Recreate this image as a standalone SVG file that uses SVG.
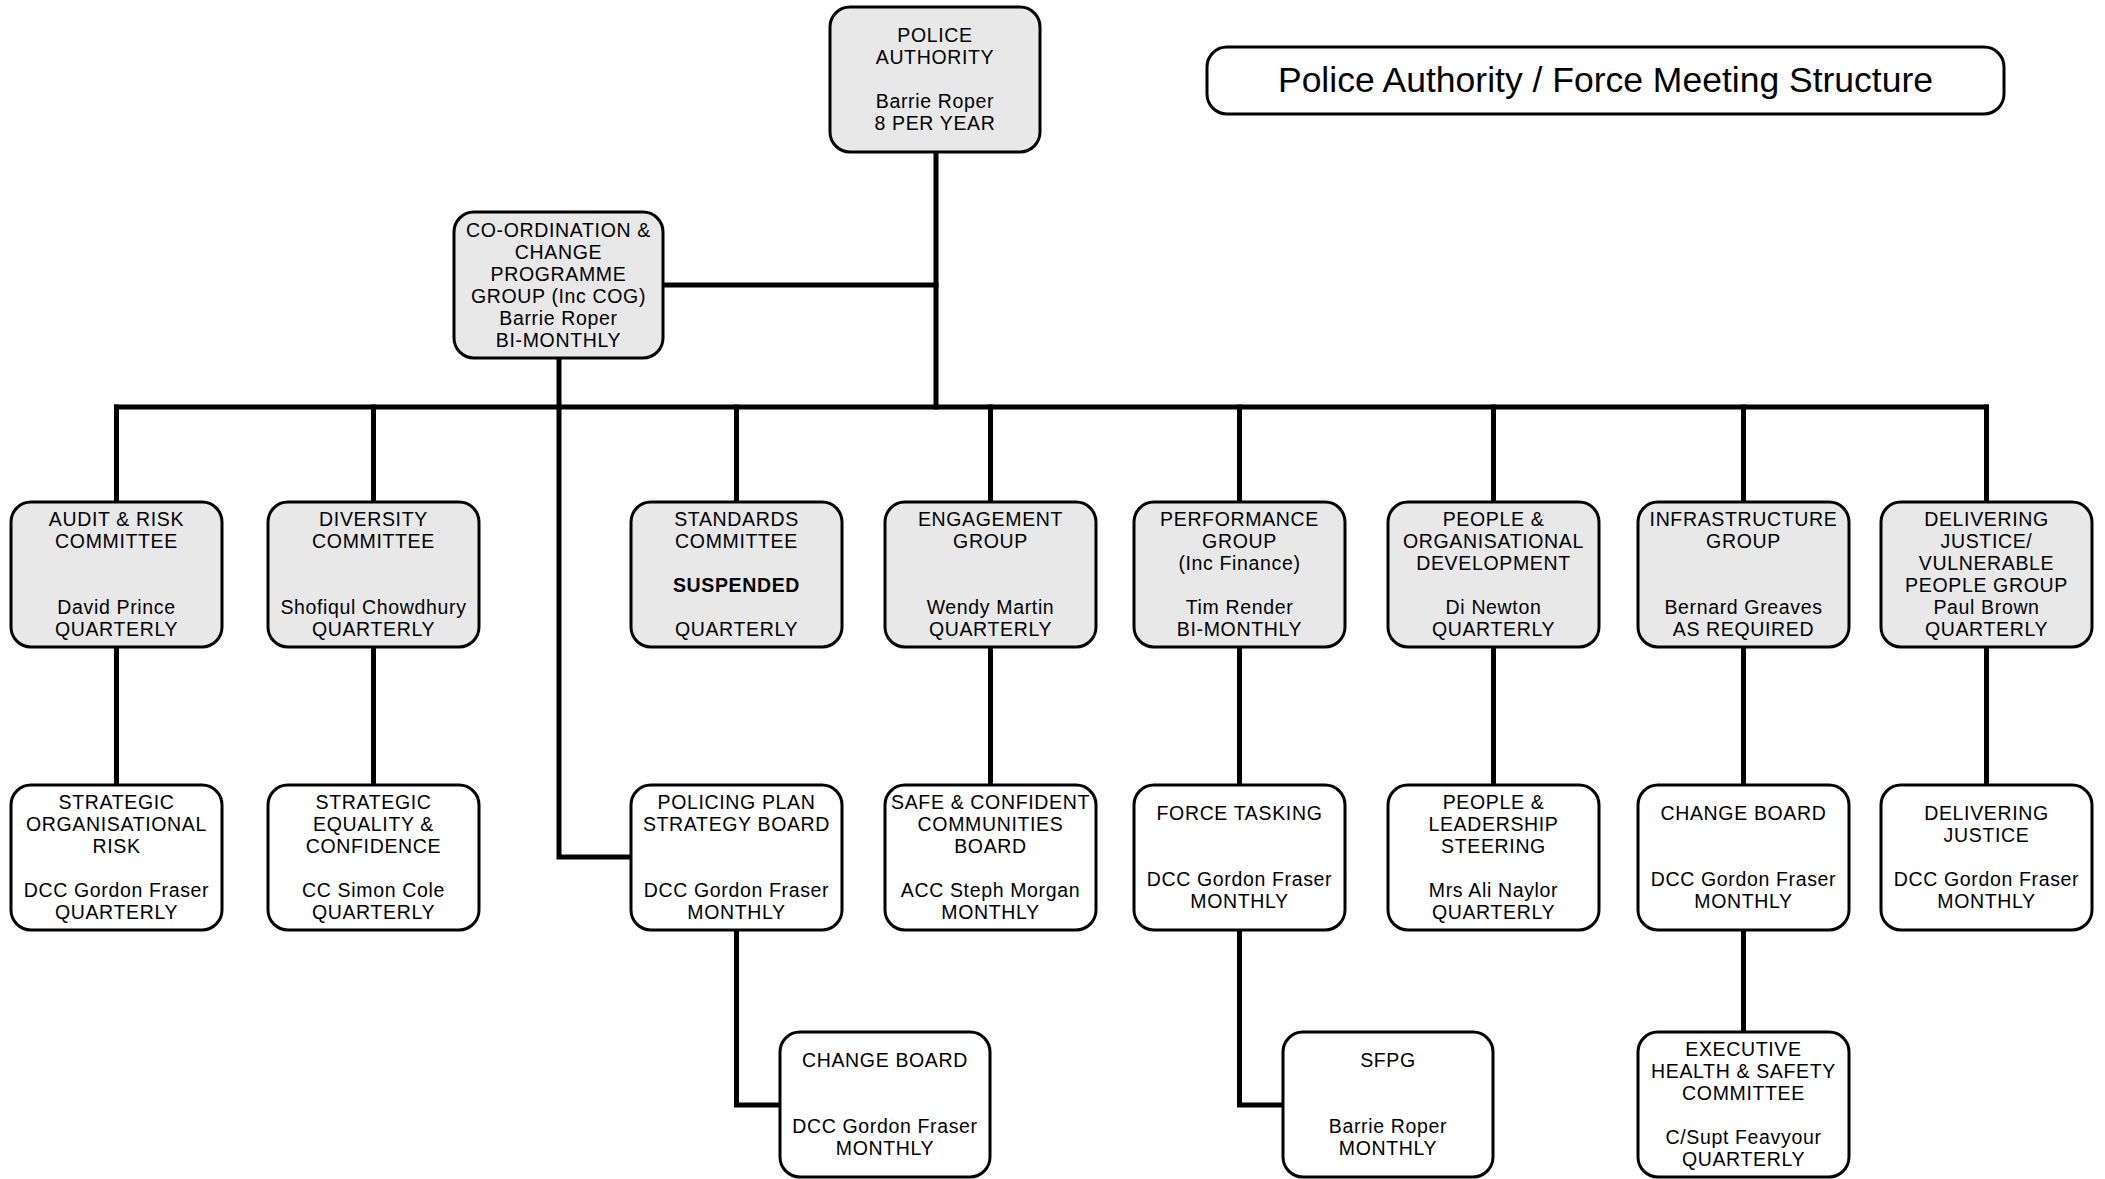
<svg xmlns="http://www.w3.org/2000/svg" width="2105" height="1179" viewBox="0 0 2105 1179">
<style>
.bg{fill:#fff}
.box{stroke:#000;stroke-width:3}
.grey{fill:#e8e8e8}
.white{fill:#fff}
.conn{stroke:#000;stroke-width:5;fill:none;stroke-linecap:square}
text{font-family:"Liberation Sans",Arial,sans-serif;font-size:19.5px;text-anchor:middle;fill:#000;letter-spacing:0.65px}
.b{font-weight:bold}
.title{font-size:35.5px;letter-spacing:0}
</style>
<rect class="bg" x="0" y="0" width="2105" height="1179"/>
<g id="connectors">
<path class="conn" d="M936,152 V407"/>
<path class="conn" d="M663,285 H936"/>
<path class="conn" d="M116.5,407 H1986.5"/>
<path class="conn" d="M116.5,407 V502 M373.5,407 V502 M736.5,407 V502 M990.5,407 V502 M1239.5,407 V502 M1493.5,407 V502 M1743.5,407 V502 M1986.5,407 V502"/>
<path class="conn" d="M559,358 V857 H631"/>
<path class="conn" d="M116.5,647 V785 M373.5,647 V785 M990.5,647 V785 M1239.5,647 V785 M1493.5,647 V785 M1743.5,647 V785 M1986.5,647 V785"/>
<path class="conn" d="M736.5,930 V1105 H780"/>
<path class="conn" d="M1239.5,930 V1105 H1283"/>
<path class="conn" d="M1743.5,930 V1032"/>
</g>
<g id="title">
<rect class="box white" x="1207" y="47" width="797" height="67" rx="20"/>
<text class="title" x="1605.5" y="92">Police Authority / Force Meeting Structure</text>
</g>
<g id="police-authority">
<rect class="box grey" x="830" y="7" width="210" height="145" rx="20"/>
<text x="935" y="42.3">POLICE</text>
<text x="935" y="64.3">AUTHORITY</text>
<text x="935" y="108.3">Barrie Roper</text>
<text x="935" y="130.3">8 PER YEAR</text>
</g>
<g id="cog">
<rect class="box grey" x="454" y="212" width="209" height="146" rx="20"/>
<text x="558.5" y="236.8">CO-ORDINATION &amp;</text>
<text x="558.5" y="258.8">CHANGE</text>
<text x="558.5" y="280.8">PROGRAMME</text>
<text x="558.5" y="302.8">GROUP (Inc COG)</text>
<text x="558.5" y="324.8">Barrie Roper</text>
<text x="558.5" y="346.8">BI-MONTHLY</text>
</g>
<g id="audit-risk">
<rect class="box grey" x="11" y="502" width="211" height="145" rx="20"/>
<text x="116.5" y="526.3">AUDIT &amp; RISK</text>
<text x="116.5" y="548.3">COMMITTEE</text>
<text x="116.5" y="614.3">David Prince</text>
<text x="116.5" y="636.3">QUARTERLY</text>
</g>
<g id="diversity">
<rect class="box grey" x="268" y="502" width="211" height="145" rx="20"/>
<text x="373.5" y="526.3">DIVERSITY</text>
<text x="373.5" y="548.3">COMMITTEE</text>
<text x="373.5" y="614.3">Shofiqul Chowdhury</text>
<text x="373.5" y="636.3">QUARTERLY</text>
</g>
<g id="standards">
<rect class="box grey" x="631" y="502" width="211" height="145" rx="20"/>
<text x="736.5" y="526.3">STANDARDS</text>
<text x="736.5" y="548.3">COMMITTEE</text>
<text class="b" x="736.5" y="592.3">SUSPENDED</text>
<text x="736.5" y="636.3">QUARTERLY</text>
</g>
<g id="engagement">
<rect class="box grey" x="885" y="502" width="211" height="145" rx="20"/>
<text x="990.5" y="526.3">ENGAGEMENT</text>
<text x="990.5" y="548.3">GROUP</text>
<text x="990.5" y="614.3">Wendy Martin</text>
<text x="990.5" y="636.3">QUARTERLY</text>
</g>
<g id="performance">
<rect class="box grey" x="1134" y="502" width="211" height="145" rx="20"/>
<text x="1239.5" y="526.3">PERFORMANCE</text>
<text x="1239.5" y="548.3">GROUP</text>
<text x="1239.5" y="570.3">(Inc Finance)</text>
<text x="1239.5" y="614.3">Tim Render</text>
<text x="1239.5" y="636.3">BI-MONTHLY</text>
</g>
<g id="people-od">
<rect class="box grey" x="1388" y="502" width="211" height="145" rx="20"/>
<text x="1493.5" y="526.3">PEOPLE &amp;</text>
<text x="1493.5" y="548.3">ORGANISATIONAL</text>
<text x="1493.5" y="570.3">DEVELOPMENT</text>
<text x="1493.5" y="614.3">Di Newton</text>
<text x="1493.5" y="636.3">QUARTERLY</text>
</g>
<g id="infrastructure">
<rect class="box grey" x="1638" y="502" width="211" height="145" rx="20"/>
<text x="1743.5" y="526.3">INFRASTRUCTURE</text>
<text x="1743.5" y="548.3">GROUP</text>
<text x="1743.5" y="614.3">Bernard Greaves</text>
<text x="1743.5" y="636.3">AS REQUIRED</text>
</g>
<g id="delivering-justice-vp">
<rect class="box grey" x="1881" y="502" width="211" height="145" rx="20"/>
<text x="1986.5" y="526.3">DELIVERING</text>
<text x="1986.5" y="548.3">JUSTICE/</text>
<text x="1986.5" y="570.3">VULNERABLE</text>
<text x="1986.5" y="592.3">PEOPLE GROUP</text>
<text x="1986.5" y="614.3">Paul Brown</text>
<text x="1986.5" y="636.3">QUARTERLY</text>
</g>
<g id="strategic-org-risk">
<rect class="box white" x="11" y="785" width="211" height="145" rx="20"/>
<text x="116.5" y="809.3">STRATEGIC</text>
<text x="116.5" y="831.3">ORGANISATIONAL</text>
<text x="116.5" y="853.3">RISK</text>
<text x="116.5" y="897.3">DCC Gordon Fraser</text>
<text x="116.5" y="919.3">QUARTERLY</text>
</g>
<g id="strategic-equality">
<rect class="box white" x="268" y="785" width="211" height="145" rx="20"/>
<text x="373.5" y="809.3">STRATEGIC</text>
<text x="373.5" y="831.3">EQUALITY &amp;</text>
<text x="373.5" y="853.3">CONFIDENCE</text>
<text x="373.5" y="897.3">CC Simon Cole</text>
<text x="373.5" y="919.3">QUARTERLY</text>
</g>
<g id="policing-plan">
<rect class="box white" x="631" y="785" width="211" height="145" rx="20"/>
<text x="736.5" y="809.3">POLICING PLAN</text>
<text x="736.5" y="831.3">STRATEGY BOARD</text>
<text x="736.5" y="897.3">DCC Gordon Fraser</text>
<text x="736.5" y="919.3">MONTHLY</text>
</g>
<g id="safe-confident">
<rect class="box white" x="885" y="785" width="211" height="145" rx="20"/>
<text x="990.5" y="809.3">SAFE &amp; CONFIDENT</text>
<text x="990.5" y="831.3">COMMUNITIES</text>
<text x="990.5" y="853.3">BOARD</text>
<text x="990.5" y="897.3">ACC Steph Morgan</text>
<text x="990.5" y="919.3">MONTHLY</text>
</g>
<g id="force-tasking">
<rect class="box white" x="1134" y="785" width="211" height="145" rx="20"/>
<text x="1239.5" y="820.3">FORCE TASKING</text>
<text x="1239.5" y="886.3">DCC Gordon Fraser</text>
<text x="1239.5" y="908.3">MONTHLY</text>
</g>
<g id="people-leadership">
<rect class="box white" x="1388" y="785" width="211" height="145" rx="20"/>
<text x="1493.5" y="809.3">PEOPLE &amp;</text>
<text x="1493.5" y="831.3">LEADERSHIP</text>
<text x="1493.5" y="853.3">STEERING</text>
<text x="1493.5" y="897.3">Mrs Ali Naylor</text>
<text x="1493.5" y="919.3">QUARTERLY</text>
</g>
<g id="change-board-infra">
<rect class="box white" x="1638" y="785" width="211" height="145" rx="20"/>
<text x="1743.5" y="820.3">CHANGE BOARD</text>
<text x="1743.5" y="886.3">DCC Gordon Fraser</text>
<text x="1743.5" y="908.3">MONTHLY</text>
</g>
<g id="delivering-justice">
<rect class="box white" x="1881" y="785" width="211" height="145" rx="20"/>
<text x="1986.5" y="820.3">DELIVERING</text>
<text x="1986.5" y="842.3">JUSTICE</text>
<text x="1986.5" y="886.3">DCC Gordon Fraser</text>
<text x="1986.5" y="908.3">MONTHLY</text>
</g>
<g id="change-board-ppsb">
<rect class="box white" x="780" y="1032" width="210" height="145" rx="20"/>
<text x="885" y="1067.3">CHANGE BOARD</text>
<text x="885" y="1133.3">DCC Gordon Fraser</text>
<text x="885" y="1155.3">MONTHLY</text>
</g>
<g id="sfpg">
<rect class="box white" x="1283" y="1032" width="210" height="145" rx="20"/>
<text x="1388" y="1067.3">SFPG</text>
<text x="1388" y="1133.3">Barrie Roper</text>
<text x="1388" y="1155.3">MONTHLY</text>
</g>
<g id="exec-health-safety">
<rect class="box white" x="1638" y="1032" width="211" height="145" rx="20"/>
<text x="1743.5" y="1056.3">EXECUTIVE</text>
<text x="1743.5" y="1078.3">HEALTH &amp; SAFETY</text>
<text x="1743.5" y="1100.3">COMMITTEE</text>
<text x="1743.5" y="1144.3">C/Supt Feavyour</text>
<text x="1743.5" y="1166.3">QUARTERLY</text>
</g>
</svg>
